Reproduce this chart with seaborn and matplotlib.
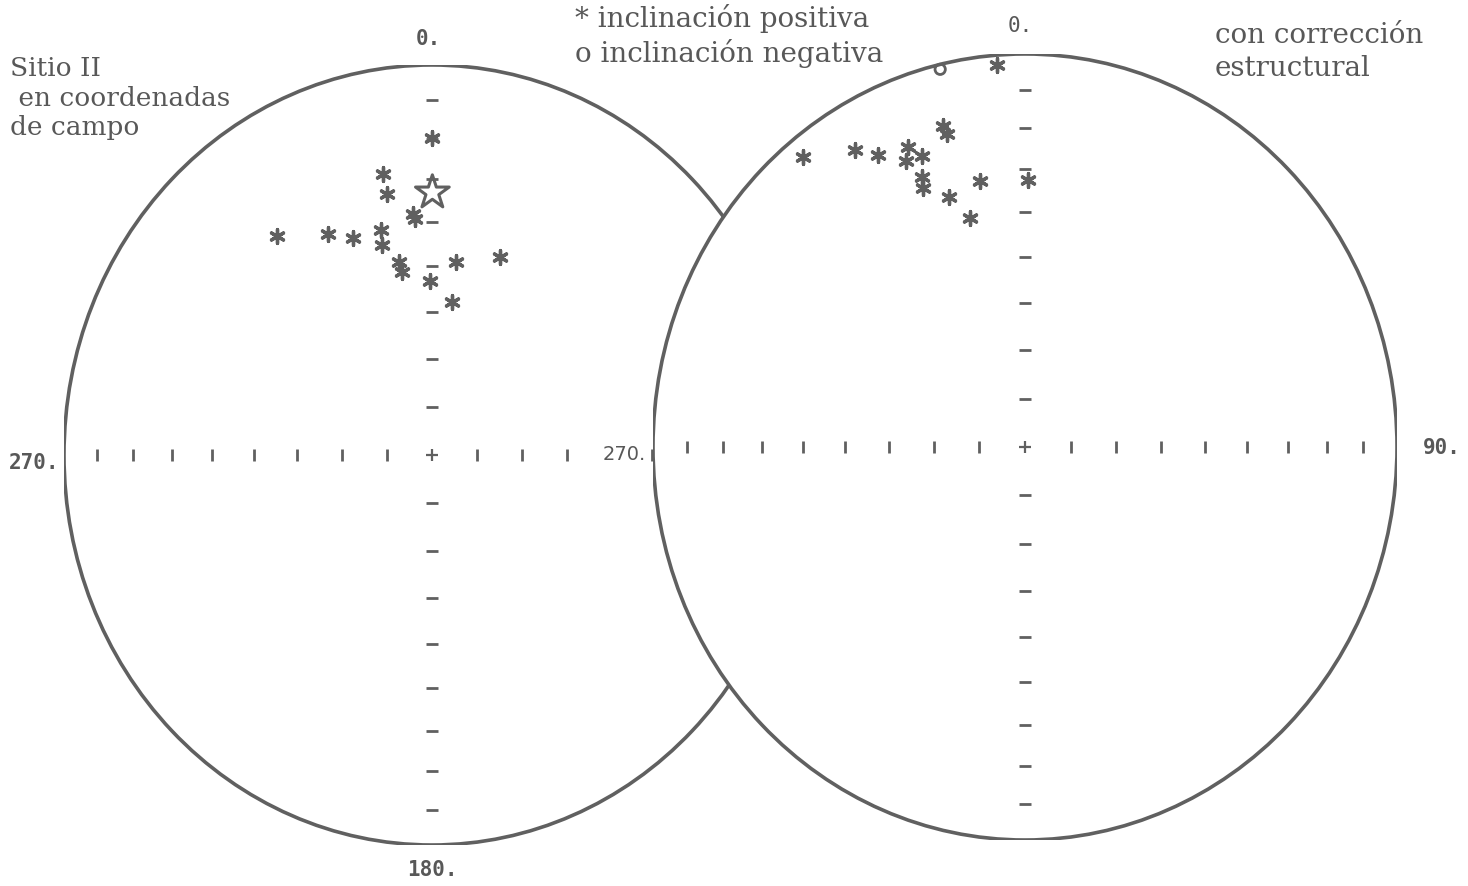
import numpy as np
import pandas as pd
import matplotlib
matplotlib.use("Agg")
import matplotlib.pyplot as plt
from matplotlib.patches import Ellipse
import seaborn as sns

W, H = 1468, 886
GRIS = "#606060"
TEXTO = "#585858"

# direcciones, en unidades del radio de la red (este, norte)
campo_x = [-0.001, -0.132, -0.123, -0.052, -0.045, -0.420, -0.283, -0.215, -0.139,
           -0.137, -0.089, -0.082, -0.005, 0.065, 0.185, 0.055]
campo_y = [0.812, 0.721, 0.668, 0.617, 0.605, 0.562, 0.566, 0.556, 0.577,
           0.538, 0.494, 0.470, 0.447, 0.496, 0.508, 0.393]
campo_tipo = ["positiva"] * 16

media_x = [0.001]
media_y = [0.673]

corr_x = [-0.228, -0.076, -0.220, -0.210, -0.598, -0.457, -0.394, -0.315, -0.320,
          -0.278, -0.278, -0.275, -0.203, -0.121, 0.009, -0.148]
corr_y = [0.961, 0.972, 0.817, 0.796, 0.737, 0.756, 0.743, 0.764, 0.729,
          0.740, 0.686, 0.658, 0.637, 0.678, 0.679, 0.582]
corr_tipo = ["negativa"] + ["positiva"] * 15

# marcas de la red: inclinaciones cada 10 grados (proyeccion de igual area)
inclinaciones = [10, 20, 30, 40, 50, 60, 70, 80]

campo = pd.DataFrame({"x": campo_x, "y": campo_y, "tipo": campo_tipo})
corr = pd.DataFrame({"x": corr_x, "y": corr_y, "tipo": corr_tipo})
media = pd.DataFrame({"x": media_x, "y": media_y})

sns.set_theme(style="white")
plt.rcParams["font.family"] = ["DejaVu Serif"]

fig = plt.figure(figsize=(W / 100, H / 100), dpi=100)
fig.patch.set_facecolor("white")


def red(cx, cy, rx, ry):
    # ejes cuyo rango -1..1 cubre la elipse de la red en pixeles
    ax = fig.add_axes([(cx - rx) / W, 1 - (cy + ry) / H, 2 * rx / W, 2 * ry / H])
    ax.set_xlim(-1, 1)
    ax.set_ylim(-1, 1)
    ax.set_facecolor("none")
    ax.axis("off")
    ax.add_patch(Ellipse((0, 0), 2, 2, facecolor="white", edgecolor=GRIS,
                         lw=2.6, zorder=0))
    r = np.sqrt(2) * np.sin(np.radians(90 - np.array(inclinaciones)) / 2)
    rr = np.concatenate([-r, r])
    zeros = np.zeros_like(rr)
    ax.scatter(rr, zeros, marker="|", s=70, lw=2.0, color=GRIS, zorder=2)
    ax.scatter(zeros, rr, marker="_", s=80, lw=2.0, color=GRIS, zorder=2)
    ax.scatter([0], [0], marker="+", s=70, lw=1.6, color=GRIS, zorder=2)
    return ax


def puntos(ax, df):
    pos = df[df.tipo == "positiva"]
    neg = df[df.tipo == "negativa"]
    sns.scatterplot(data=pos, x="x", y="y", marker=(6, 2, 0), s=100, linewidth=2.4,
                    color=GRIS, ax=ax, legend=False, zorder=3)
    if len(neg):
        sns.scatterplot(data=neg, x="x", y="y", marker="o", s=55, linewidth=2.0,
                        facecolor="none", edgecolor=GRIS, ax=ax, legend=False, zorder=3)
    ax.set_xlim(-1, 1)
    ax.set_ylim(-1, 1)
    ax.axis("off")


ax1 = red(432, 455, 368, 390)
puntos(ax1, campo)
sns.scatterplot(data=media, x="x", y="y", marker="*", s=650, linewidth=2.2,
                facecolor="none", edgecolor=GRIS, ax=ax1, legend=False, zorder=4)
ax1.set_xlim(-1, 1)
ax1.set_ylim(-1, 1)
ax1.axis("off")

ax2 = red(1025, 447, 372, 393)
puntos(ax2, corr)


def px(x, y):
    return x / W, 1 - y / H


mono = dict(family="DejaVu Sans Mono", color=TEXTO, ha="center", va="center")
fig.text(*px(428, 39), "0.", fontsize=15, weight="bold", **mono)
fig.text(*px(432, 870), "180.", fontsize=15, weight="bold", **mono)
fig.text(*px(34, 463), "270.", fontsize=15, weight="bold", **mono)
fig.text(*px(1020, 26), "0.", fontsize=15, **mono)
fig.text(*px(1442, 448), "90.", fontsize=15, weight="bold", **mono)
fig.text(*px(624, 455), "270.", fontsize=14, zorder=5, family="DejaVu Sans",
         color=TEXTO, ha="center", va="center",
         bbox=dict(facecolor="white", edgecolor="none", pad=1))

fig.text(*px(10, 98), "Sitio II\n en coordenadas\nde campo", fontsize=19,
         color=TEXTO, ha="left", va="center", linespacing=1.2)
fig.text(*px(575, 36), "* inclinación positiva\no inclinación negativa", fontsize=20,
         color=TEXTO, ha="left", va="center", linespacing=1.25)
fig.text(*px(1215, 52), "con corrección\nestructural", fontsize=20,
         color=TEXTO, ha="left", va="center", linespacing=1.3)

fig.savefig("out.png", dpi=100, facecolor="white")
